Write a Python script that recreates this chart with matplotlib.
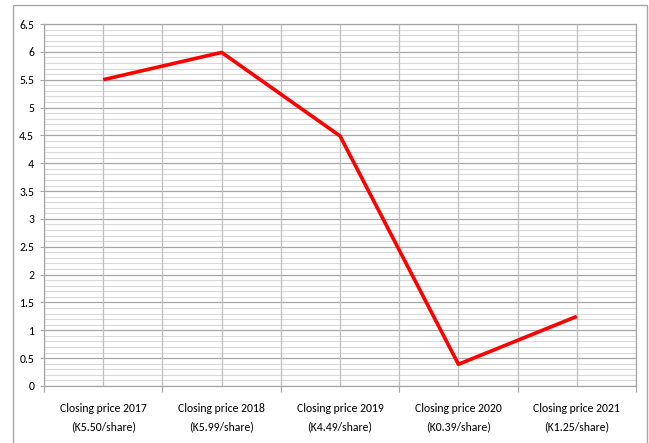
import matplotlib.pyplot as plt
from matplotlib.patches import Rectangle
import numpy as np

categories = ["Closing price 2017\n(K5.50/share)", "Closing price 2018\n(K5.99/share)",
              "Closing price 2019\n(K4.49/share)", "Closing price 2020\n(K0.39/share)",
              "Closing price 2021\n(K1.25/share)"]
prices = [5.50, 5.99, 4.49, 0.39, 1.25]
y_ticks = [0, 0.5, 1, 1.5, 2, 2.5, 3, 3.5, 4, 4.5, 5, 5.5, 6, 6.5]
y_labels = ["0", "0.5", "1", "1.5", "2", "2.5", "3", "3.5", "4", "4.5", "5", "5.5", "6", "6.5"]

plt.rcParams['font.family'] = ['Carlito', 'DejaVu Sans']

fig = plt.figure(figsize=(6.49, 4.43), dpi=100)
ax = fig.add_axes([0.0678, 0.1287, 0.9122, 0.8171])

n = len(categories)
xs = np.arange(n) + 0.5

# fine horizontal grid every 0.1, darker every 0.5
for v in np.arange(0, 6.51, 0.1):
    if abs(v * 2 - round(v * 2)) > 1e-6:
        ax.axhline(v, color='#d9d9d9', lw=0.8, zorder=0)
for v in y_ticks:
    ax.axhline(v, color='#a6a6a6', lw=0.9, zorder=1)
for v in np.arange(0, n + 0.01, 0.5):
    ax.axvline(v, color='#bfbfbf', lw=0.9, zorder=1)

ax.plot(xs, prices, color='#ff0000', lw=2.6, zorder=3, solid_capstyle='butt')

ax.set_xlim(0, n)
ax.set_ylim(0, 6.5)
ax.set_yticks(y_ticks)
ax.set_yticklabels(y_labels, fontsize=8.5)
ax.set_xticks(np.arange(n + 1))
ax.set_xticklabels([])
ax.set_xticks(xs, minor=True)
ax.set_xticklabels(categories, minor=True, fontsize=8.5, linespacing=1.75)
ax.tick_params(axis='x', which='minor', length=0, pad=12.5)
ax.tick_params(axis='x', which='major', length=4.3, color='#a6a6a6')
ax.tick_params(axis='y', length=3, color='#a6a6a6', pad=4)

for s in ax.spines.values():
    s.set_color('#a6a6a6')
    s.set_linewidth(0.9)

# outer chart-area border (bottom edge runs off the image)
fig.patches.append(Rectangle((13 / 649, -5 / 443), 634 / 649, 443 / 443,
                             transform=fig.transFigure, fill=False,
                             edgecolor='#a6a6a6', lw=1))

fig.savefig("out.png", dpi=100)
